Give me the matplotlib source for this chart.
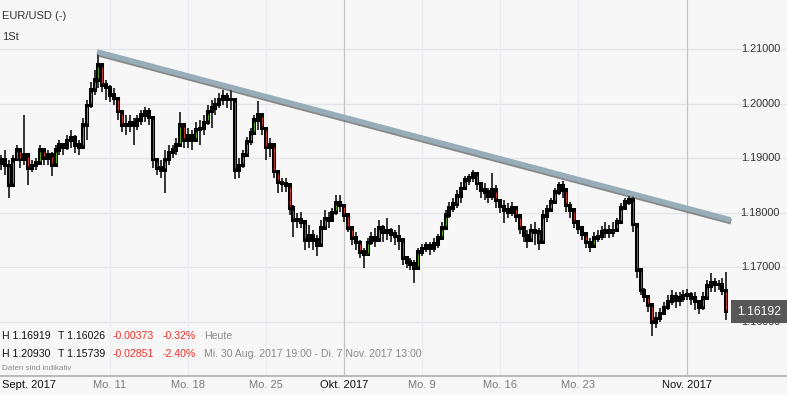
"""
EUR/USD 1-hour chart with falling trend line (Sept - Nov 2017)
"""

import matplotlib.pyplot as plt
import matplotlib.patheffects as pe
import matplotlib.transforms as mtransforms
import numpy as np

#---------------------------------------------------------------------------------------------------
# Data
#---------------------------------------------------------------------------------------------------

# 6-hour bars, x given in trading days relative to Mo. 4 Sept 2017
first_bar_day = -1.99
bar_step = 0.25
first_open = 1.1890

highs = [1.1906, 1.1915, 1.1897, 1.1906, 1.1924, 1.1919, 1.1979, 1.1900, 1.1897, 1.1900,
         1.1924, 1.1915, 1.1915, 1.1911, 1.1924, 1.1933, 1.1928, 1.1942, 1.1952, 1.1942,
         1.1933, 1.1974, 1.2007, 1.2040, 1.2062, 1.2093, 1.2071, 1.2043, 1.2034, 1.2029,
         1.2010, 1.1985, 1.1979, 1.1979, 1.1974, 1.1979, 1.1988, 1.1994, 1.1992, 1.1974,
         1.1897, 1.1897, 1.1915, 1.1924, 1.1924, 1.1937, 1.1985, 1.1961, 1.1955, 1.1952,
         1.1966, 1.1970, 1.1979, 1.1997, 1.2007, 1.2010, 1.2019, 1.2025, 1.2019, 1.2034,
         1.2010, 1.1900, 1.1915, 1.1939, 1.1955, 1.1979, 1.2005, 1.1979, 1.1955, 1.1937,
         1.1924, 1.1878, 1.1864, 1.1864, 1.1851, 1.1814, 1.1800, 1.1801, 1.1778, 1.1778,
         1.1768, 1.1759, 1.1787, 1.1805, 1.1801, 1.1809, 1.1833, 1.1833, 1.1814, 1.1796,
         1.1772, 1.1765, 1.1750, 1.1735, 1.1754, 1.1765, 1.1772, 1.1787, 1.1778, 1.1790,
         1.1772, 1.1768, 1.1778, 1.1741, 1.1721, 1.1717, 1.1713, 1.1735, 1.1743, 1.1746,
         1.1746, 1.1754, 1.1761, 1.1783, 1.1805, 1.1820, 1.1827, 1.1842, 1.1856, 1.1867,
         1.1871, 1.1878, 1.1869, 1.1856, 1.1855, 1.1845, 1.1873, 1.1851, 1.1823, 1.1823,
         1.1818, 1.1820, 1.1809, 1.1787, 1.1772, 1.1768, 1.1779, 1.1783, 1.1772, 1.1805,
         1.1814, 1.1827, 1.1845, 1.1856, 1.1858, 1.1833, 1.1820, 1.1801, 1.1787, 1.1776,
         1.1761, 1.1754, 1.1765, 1.1768, 1.1776, 1.1783, 1.1778, 1.1783, 1.1790, 1.1818,
         1.1827, 1.1831, 1.1831, 1.1778, 1.1695, 1.1662, 1.1649, 1.1635, 1.1618, 1.1626,
         1.1637, 1.1649, 1.1658, 1.1655, 1.1655, 1.1658, 1.1660, 1.1655, 1.1655, 1.1640,
         1.1655, 1.1677, 1.1690, 1.1680, 1.1677, 1.1680, 1.1692]

lows = [1.1878, 1.1869, 1.1827, 1.1851, 1.1897, 1.1882, 1.1887, 1.1851, 1.1875, 1.1878,
        1.1887, 1.1887, 1.1887, 1.1867, 1.1887, 1.1906, 1.1906, 1.1915, 1.1919, 1.1909,
        1.1906, 1.1919, 1.1933, 1.1992, 1.2016, 1.2029, 1.2021, 1.2007, 1.2003, 1.1997,
        1.1970, 1.1948, 1.1942, 1.1948, 1.1924, 1.1952, 1.1961, 1.1966, 1.1961, 1.1882,
        1.1869, 1.1864, 1.1836, 1.1887, 1.1900, 1.1906, 1.1933, 1.1919, 1.1919, 1.1915,
        1.1930, 1.1924, 1.1942, 1.1961, 1.1955, 1.1979, 1.1992, 1.1997, 1.1992, 1.1988,
        1.1862, 1.1864, 1.1882, 1.1906, 1.1924, 1.1942, 1.1952, 1.1942, 1.1897, 1.1902,
        1.1864, 1.1836, 1.1838, 1.1838, 1.1796, 1.1756, 1.1772, 1.1772, 1.1732, 1.1735,
        1.1732, 1.1721, 1.1750, 1.1772, 1.1772, 1.1783, 1.1796, 1.1801, 1.1783, 1.1765,
        1.1741, 1.1732, 1.1717, 1.1699, 1.1723, 1.1741, 1.1737, 1.1759, 1.1746, 1.1750,
        1.1746, 1.1741, 1.1732, 1.1704, 1.1699, 1.1695, 1.1671, 1.1710, 1.1721, 1.1728,
        1.1723, 1.1728, 1.1735, 1.1757, 1.1776, 1.1790, 1.1801, 1.1809, 1.1818, 1.1842,
        1.1851, 1.1856, 1.1842, 1.1827, 1.1823, 1.1818, 1.1823, 1.1809, 1.1800, 1.1781,
        1.1790, 1.1794, 1.1783, 1.1761, 1.1746, 1.1735, 1.1754, 1.1741, 1.1732, 1.1768,
        1.1783, 1.1801, 1.1818, 1.1833, 1.1827, 1.1801, 1.1790, 1.1772, 1.1761, 1.1750,
        1.1735, 1.1728, 1.1735, 1.1746, 1.1750, 1.1754, 1.1754, 1.1756, 1.1765, 1.1787,
        1.1805, 1.1814, 1.1765, 1.1680, 1.1649, 1.1637, 1.1618, 1.1574, 1.1589, 1.1600,
        1.1613, 1.1622, 1.1631, 1.1626, 1.1629, 1.1637, 1.1640, 1.1631, 1.1622, 1.1615,
        1.1622, 1.1644, 1.1655, 1.1655, 1.1658, 1.1649, 1.1603]

closes = [1.1897, 1.1887, 1.1851, 1.1897, 1.1915, 1.1897, 1.1906, 1.1882, 1.1887, 1.1891,
          1.1915, 1.1900, 1.1906, 1.1887, 1.1915, 1.1924, 1.1919, 1.1933, 1.1937, 1.1924,
          1.1920, 1.1961, 1.1997, 1.2025, 1.2043, 1.2071, 1.2034, 1.2029, 1.2016, 1.2010,
          1.1985, 1.1961, 1.1961, 1.1966, 1.1961, 1.1970, 1.1979, 1.1985, 1.1974, 1.1897,
          1.1882, 1.1878, 1.1897, 1.1911, 1.1915, 1.1924, 1.1961, 1.1933, 1.1942, 1.1933,
          1.1952, 1.1955, 1.1966, 1.1985, 1.1992, 1.1999, 1.2007, 1.2012, 1.2007, 1.2007,
          1.1878, 1.1887, 1.1906, 1.1930, 1.1946, 1.1970, 1.1979, 1.1955, 1.1919, 1.1924,
          1.1875, 1.1856, 1.1853, 1.1851, 1.1809, 1.1787, 1.1787, 1.1783, 1.1750, 1.1759,
          1.1750, 1.1741, 1.1772, 1.1790, 1.1787, 1.1801, 1.1818, 1.1814, 1.1796, 1.1772,
          1.1754, 1.1746, 1.1728, 1.1723, 1.1746, 1.1754, 1.1750, 1.1772, 1.1765, 1.1768,
          1.1761, 1.1757, 1.1750, 1.1717, 1.1710, 1.1706, 1.1699, 1.1728, 1.1735, 1.1739,
          1.1735, 1.1743, 1.1754, 1.1772, 1.1796, 1.1809, 1.1816, 1.1831, 1.1845, 1.1860,
          1.1864, 1.1871, 1.1853, 1.1842, 1.1838, 1.1831, 1.1842, 1.1823, 1.1812, 1.1805,
          1.1801, 1.1809, 1.1794, 1.1772, 1.1759, 1.1750, 1.1768, 1.1765, 1.1746, 1.1794,
          1.1805, 1.1820, 1.1838, 1.1849, 1.1842, 1.1814, 1.1805, 1.1783, 1.1772, 1.1761,
          1.1746, 1.1739, 1.1754, 1.1757, 1.1765, 1.1768, 1.1765, 1.1768, 1.1783, 1.1809,
          1.1820, 1.1825, 1.1778, 1.1695, 1.1658, 1.1647, 1.1631, 1.1600, 1.1607, 1.1615,
          1.1626, 1.1637, 1.1647, 1.1640, 1.1644, 1.1649, 1.1651, 1.1644, 1.1637, 1.1626,
          1.1644, 1.1666, 1.1673, 1.1669, 1.1669, 1.1658, 1.16192]

# Axis labels (trading days relative to Mo. 4 Sept)
week_days = [5, 10, 15, 25, 30, 35]
week_labels = ['Mo. 11', 'Mo. 18', 'Mo. 25', 'Mo. 9', 'Mo. 16', 'Mo. 23']
month_days = [20, 42]
month_labels = ['Okt. 2017', 'Nov. 2017']
first_label = 'Sept. 2017'
price_ticks = [1.16, 1.17, 1.18, 1.19, 1.20, 1.21]

# Trend line end points
trend_days = [4.17, 44.8]
trend_prices = [1.2095, 1.1787]

# Statistics rows
stats_today = ['H 1.16919', 'T 1.16026', '-0.00373', '-0.32%', 'Heute']
stats_range = ['H 1.20930', 'T 1.15739', '-0.02851', '-2.40%',
               'Mi. 30 Aug. 2017 19:00 - Di. 7 Nov. 2017 13:00']
last_price = '1.16192'

#---------------------------------------------------------------------------------------------------
# Plot
#---------------------------------------------------------------------------------------------------

W, H = 787, 395
bg = '#f7f7f7'
plt.rcParams['font.family'] = ['Liberation Sans', 'DejaVu Sans']

def fpos(x, y):
    return x / W, 1 - y / H

fig = plt.figure(figsize=(W / 100, H / 100), dpi=100, facecolor=bg)
ax = fig.add_axes([0, 19 / H, 1, 376 / H])
ax.set_facecolor(bg)
ax.set_xlim(-2.05, 48.40)
ax.set_ylim(1.15011, 1.218974)
for s in ['top', 'left', 'right']:
    ax.spines[s].set_visible(False)
ax.spines['bottom'].set_color('#b4b4b4')
ax.spines['bottom'].set_linewidth(1.3)
ax.set_xticks([])
ax.set_yticks([])

# grid
for p in price_ticks:
    ax.axhline(p, color='#e4e4e8', lw=0.9, zorder=0)
for d in week_days:
    ax.axvline(d, color='#eaedf4', lw=0.9, zorder=0)
for d in month_days:
    ax.axvline(d, color='#c4c4c4', lw=0.9, zorder=0)

# candles
highs = np.array(highs)
lows = np.array(lows)
closes = np.array(closes)
opens = np.concatenate([[first_open], closes[:-1]])
x = first_bar_day + bar_step * np.arange(len(closes))
hi = np.maximum(highs, np.maximum(opens, closes))
lo = np.minimum(lows, np.minimum(opens, closes))
body_lo = np.minimum(opens, closes)
body_hi = np.maximum(opens, closes)
ax.vlines(x, lo, hi, color='black', lw=1.1, zorder=2)
ax.vlines(x, body_lo - 0.0003, body_hi + 0.0003, color='black', lw=2.9, zorder=3)
up = closes > opens
inset = 0.00035
for m, c in [(up, '#6cc417'), (~up, '#f0413a')]:
    b0 = body_lo[m] + inset
    b1 = body_hi[m] - inset
    ok = (b1 - b0) > 0.0007
    ax.vlines(x[m][ok], b0[ok], b1[ok], color=c, lw=0.6, zorder=4)

# trend line
ax.plot(trend_days, trend_prices, color='#97adba', lw=3.8, solid_capstyle='butt', zorder=5,
        path_effects=[pe.SimpleLineShadow(offset=(0.2, -1.4), shadow_color='#404040', alpha=0.6),
                      pe.Normal()])

# price labels on the right
ytrans = mtransforms.blended_transform_factory(fig.transFigure, ax.transData)
for p in price_ticks:
    ax.text(780 / W, p, f'{p:.5f}', transform=ytrans, ha='right', va='center',
            fontsize=7.8, color='#333333', zorder=6)
ax.add_patch(plt.Rectangle((731 / W, closes[-1] - 0.00205), 56 / W, 0.0041,
                           transform=ytrans, facecolor='#575757', edgecolor='none',
                           zorder=7, clip_on=False))
ax.text(759 / W, closes[-1], last_price, transform=ytrans, ha='center', va='center',
        fontsize=8.8, color='white', zorder=8)

# x labels
xtrans = mtransforms.blended_transform_factory(ax.transData, fig.transFigure)
ylab = 1 - 385 / H
fig.text(*fpos(2, 385), first_label, ha='left', va='center', fontsize=8, color='#111111')
for d, lab in zip(week_days, week_labels):
    ax.text(d, ylab, lab, transform=xtrans, ha='center', va='center', fontsize=8,
            color='#7a7a7a', clip_on=False)
for d, lab in zip(month_days, month_labels):
    ax.text(d, ylab, lab, transform=xtrans, ha='center', va='center', fontsize=8,
            color='#111111', clip_on=False)

# header
fig.text(*fpos(2, 16), 'EUR/USD (-)', ha='left', va='center', fontsize=8, color='#333333')
fig.text(*fpos(2, 37), '1St', ha='left', va='center', fontsize=8, color='#333333')

# statistics
cols = [2, 58, 113, 163, 204]
colors = ['#111111', '#111111', '#f0302a', '#f0302a', '#8a8a8a']
for row, yy in [(stats_today, 336), (stats_range, 354)]:
    for txt, cx, c in zip(row, cols, colors):
        fig.text(*fpos(cx, yy), txt, ha='left', va='center', fontsize=7.6, color=c)
fig.text(*fpos(2, 369), 'Daten sind indikativ', ha='left', va='center', fontsize=5.8,
         color='#8a8a8a')

plt.savefig('out.png', dpi=100, facecolor=bg)
